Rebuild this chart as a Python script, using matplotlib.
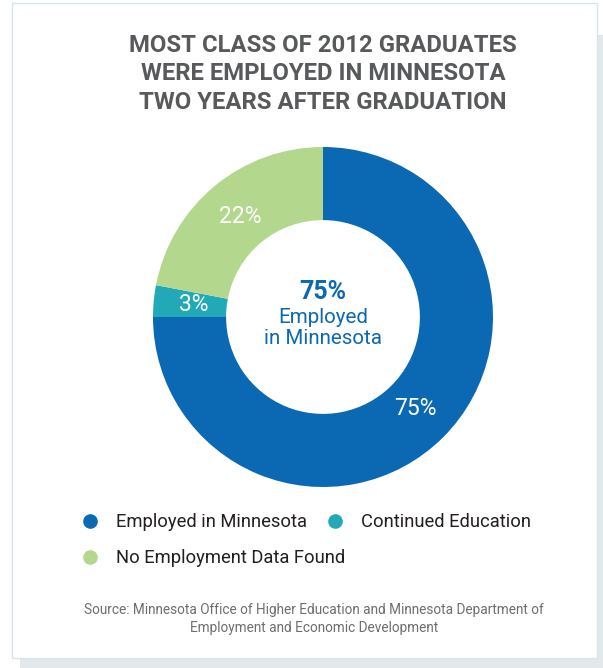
import matplotlib.pyplot as plt
from matplotlib.patches import Rectangle

W, H = 603, 668

title = "MOST CLASS OF 2012 GRADUATES\nWERE EMPLOYED IN MINNESOTA\nTWO YEARS AFTER GRADUATION"
categories = ["Employed in Minnesota", "Continued Education", "No Employment Data Found"]
shares = [75, 3, 22]
colors = ["#0b69b4", "#21a9b7", "#b4d78e"]
center_pct = "75%"
center_label = "Employed\nin Minnesota"
source = ("Source: Minnesota Office of Higher Education and Minnesota Department of\n"
          "Employment and Economic Development")

FONT = ["Roboto", "DejaVu Sans"]


def fx(px):
    return px / W


def fy(py):
    return 1 - py / H


fig = plt.figure(figsize=(W / 100, H / 100), dpi=100)
fig.patch.set_facecolor("white")

# card with shadow on right and bottom (behind everything)
bg = fig.add_axes([0, 0, 1, 1], zorder=-10)
bg.set_xlim(0, W)
bg.set_ylim(H, 0)
bg.axis("off")
bg.add_patch(Rectangle((20, 35), W - 20, H - 35, facecolor="#e3e8ea", edgecolor="none"))
bg.add_patch(Rectangle((12, 3), 597 - 12, 658 - 3, facecolor="white",
                       edgecolor="#d6e6ea", linewidth=1))

fig.text(fx(323), fy(74), title, ha="center", va="center", fontsize=17.2,
         fontweight="bold", color="#58595b", family=FONT, linespacing=1.28)

# donut
r = 170
ax = fig.add_axes([fx(323 - r), fy(317 + r), fx(2 * r), (2 * r) / H])
wedges, texts, autotexts = ax.pie(
    shares, colors=colors, startangle=90, counterclock=False,
    wedgeprops=dict(width=0.43, edgecolor="none"),
    autopct="%d%%", pctdistance=0.765,
    textprops=dict(color="white", fontsize=16.5, family=FONT))
ax.set_xlim(-1, 1)
ax.set_ylim(-1, 1)
ax.set_aspect("equal")
ax.axis("off")

fig.text(fx(323), fy(292), center_pct, ha="center", va="center", fontsize=18,
         fontweight="bold", color=colors[0], family=FONT)
fig.text(fx(323), fy(328), center_label, ha="center", va="center", fontsize=14.8,
         color=colors[0], family=FONT, linespacing=1.12)

# legend
legend_pos = [(90, 521), (335, 521), (90, 557)]
for (x, y), name, c in zip(legend_pos, categories, colors):
    fig.lines.append(plt.Line2D([fx(x)], [fy(y)], marker="o", markersize=9.5, color=c,
                                transform=fig.transFigure, linestyle="none"))
    fig.text(fx(x + 26), fy(y + 1), name, ha="left", va="center", fontsize=13.2,
             color="#231f20", family=FONT)

fig.text(fx(314), fy(619), source, ha="center", va="center", fontsize=9.8,
         color="#6d6e71", family=FONT, linespacing=1.4)

fig.savefig("out.png", dpi=100)
